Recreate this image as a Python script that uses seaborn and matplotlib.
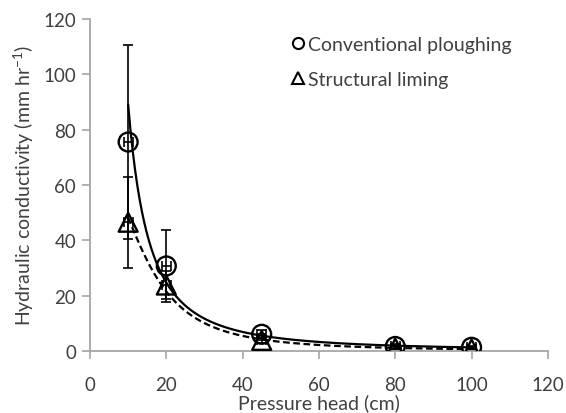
import numpy as np
import pandas as pd
import matplotlib
matplotlib.use("Agg")
import matplotlib.pyplot as plt
import seaborn as sns
from matplotlib.lines import Line2D

# ---- data ----
pressure_head = [10, 20, 45, 80, 100]
conventional = [75.5, 30.7, 6.0, 1.6, 1.3]
conventional_err = [35.0, 13.0, 1.5, 0.8, 0.6]
structural = [46.5, 23.8, 3.8, 1.0, 0.7]
structural_err = [16.5, 5.0, 1.0, 0.6, 0.5]
pressure_err = [1.2, 1.2, 1.2, 1.2, 1.2]
series_names = ["Conventional ploughing", "Structural liming"]
x_ticks = [0, 20, 40, 60, 80, 100, 120]
y_ticks = [0, 20, 40, 60, 80, 100, 120]

sns.set_theme(style="white")
plt.rcParams['font.family'] = ['Lato', 'DejaVu Sans']
plt.rcParams['mathtext.default'] = 'regular'

TXT = '#404040'
GRAY = '#a6a6a6'

fig = plt.figure(figsize=(5.66, 4.14), dpi=100)
ax = fig.add_axes([0.159, 0.150, 0.809, 0.802])

x = np.array(pressure_head, dtype=float)
xs = np.linspace(x.min(), x.max(), 300)

# power trendline for conventional ploughing (fitted from the data)
b, lna = np.polyfit(np.log(x), np.log(conventional), 1)
sns.lineplot(x=xs, y=np.exp(lna) * xs ** b, color='black', lw=1.6, ax=ax)

# K = Ks / (1 + (h/h0)^n) fitted (log least squares) to structural liming
ly = np.log(structural)
best = None
for n_ in np.arange(1.5, 4.0, 0.02):
    for h0 in np.arange(5.0, 40.0, 0.1):
        d = np.log1p((x / h0) ** n_)
        lks = np.mean(ly + d)
        err = np.sum((ly - (lks - d)) ** 2)
        if best is None or err < best[0]:
            best = (err, n_, h0, lks)
_, n_b, h0_b, lks_b = best
sns.lineplot(x=xs, y=np.exp(lks_b) / (1 + (xs / h0_b) ** n_b), color='black',
             lw=1.6, ax=ax, dashes=False, linestyle=(0, (3, 1.6)))

# error bars
for yv, ye in [(conventional, conventional_err), (structural, structural_err)]:
    ax.errorbar(x, yv, yerr=ye, xerr=pressure_err, fmt='none', ecolor='black',
                elinewidth=1.2, capsize=3.5, capthick=1.2)

# markers
df = pd.DataFrame({"x": np.concatenate([x, x]),
                   "y": conventional + structural,
                   "series": [series_names[0]] * 5 + [series_names[1]] * 5})
for name, mk in zip(series_names, ['o', '^']):
    sub = df[df.series == name]
    sns.scatterplot(data=sub, x="x", y="y", marker=mk, s=185, facecolor='none',
                    edgecolor='black', linewidth=1.7, ax=ax, zorder=5, legend=False)

ax.set_xlim(0, 120)
ax.set_ylim(0, 120)
ax.set_xticks(x_ticks)
ax.set_yticks(y_ticks)
ax.tick_params(direction='out', length=6, width=1.2, color=GRAY, labelcolor=TXT,
               labelsize=13.5, bottom=True, left=True)
ax.tick_params(axis='x', pad=12)
ax.tick_params(axis='y', pad=4)
for s in ['top', 'right']:
    ax.spines[s].set_visible(False)
for s in ['left', 'bottom']:
    ax.spines[s].set_color(GRAY)
    ax.spines[s].set_linewidth(1.3)

ax.set_xlabel("Pressure head (cm)", fontsize=14, color=TXT, labelpad=0)
ax.set_ylabel("Hydraulic conductivity (mm hr$^{-1}$)", fontsize=14, color=TXT, labelpad=5)

handles = [Line2D([], [], marker='o', ls='none', mfc='none', mec='black', ms=8, mew=1.5),
           Line2D([], [], marker='^', ls='none', mfc='none', mec='black', ms=8, mew=1.5)]
ax.legend(handles, series_names, loc='upper left', bbox_to_anchor=(0.40, 0.995),
          frameon=False, fontsize=14, handletextpad=0.0, labelspacing=0.9,
          handlelength=1.0, labelcolor=TXT, borderpad=0.3)

fig.savefig("out.png", dpi=100)
